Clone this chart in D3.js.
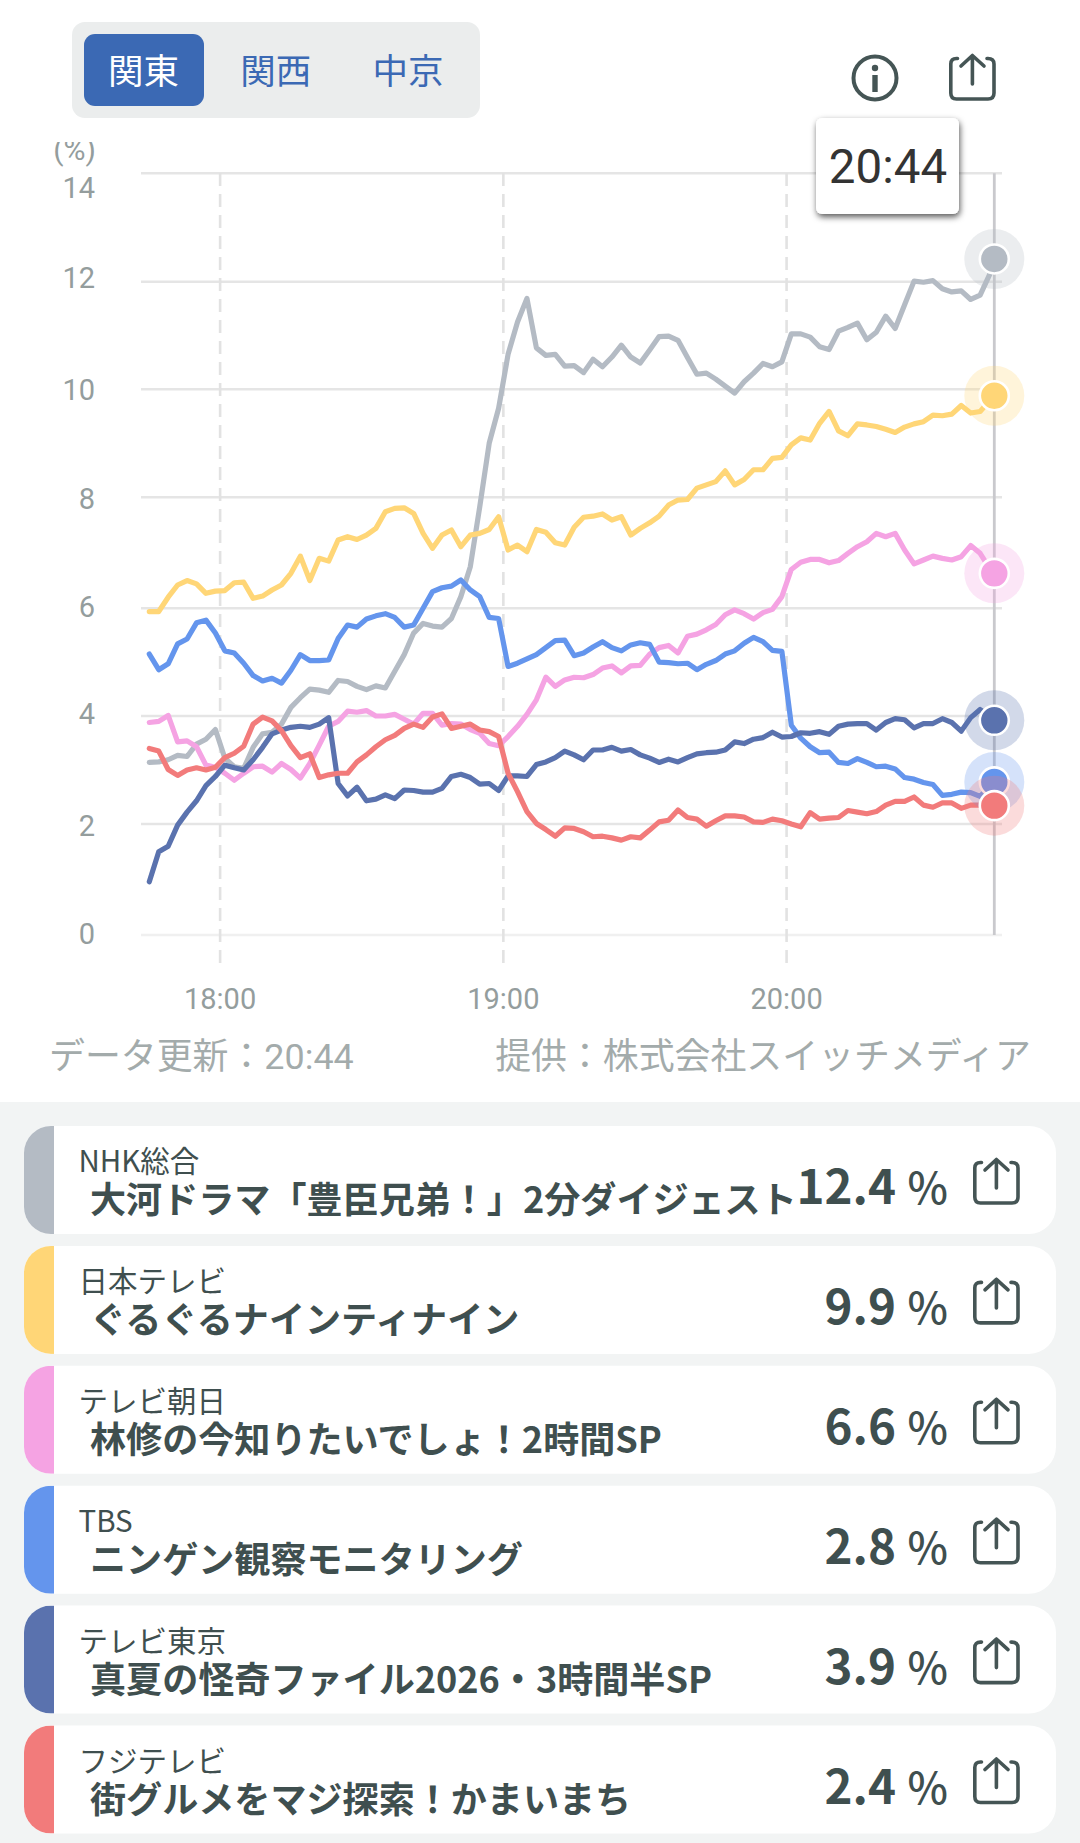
<!DOCTYPE html>
<html lang="ja">
<head>
<meta charset="utf-8">
<title>視聴率</title>
<script src="https://cdnjs.cloudflare.com/ajax/libs/d3/7.8.5/d3.min.js"></script>
<style>
html,body{margin:0;padding:0;background:#fff;}
svg{display:block;}
text{font-family:Roboto,"Noto Sans CJK JP",sans-serif;}
.cjk{font-family:"Noto Sans CJK JP",sans-serif;}
</style>
</head>
<body>
<div id="canvas"></div>
<script>
// values, one reading every 2 minutes from 17:45, then the last minute 20:44
var nhk = [3.14,3.15,3.19,3.27,3.25,3.48,3.57,3.75,3.22,3.06,
  3.03,3.42,3.67,3.70,3.85,4.16,4.34,4.50,4.48,4.44,
  4.66,4.64,4.55,4.49,4.56,4.52,4.83,5.14,5.54,5.72,
  5.67,5.65,5.81,6.21,6.75,7.83,9.0,9.65,10.65,11.25,
  11.69,10.77,10.63,10.65,10.43,10.44,10.31,10.56,10.42,10.60,
  10.82,10.60,10.49,10.73,10.98,10.99,10.91,10.59,10.28,10.30,
  10.19,10.06,9.93,10.14,10.30,10.48,10.42,10.51,11.03,11.03,
  10.97,10.79,10.74,11.08,11.15,11.23,10.92,11.06,11.36,11.13,
  11.57,12.01,11.99,12.02,11.87,11.81,11.83,11.67,11.75,12.13,
  12.42];
var ntv = [5.94,5.94,6.2,6.42,6.5,6.44,6.27,6.31,6.32,6.46,
  6.47,6.18,6.22,6.33,6.42,6.63,6.94,6.5,6.9,6.85,
  7.23,7.29,7.24,7.32,7.44,7.74,7.8,7.81,7.71,7.35,
  7.08,7.32,7.41,7.11,7.32,7.35,7.42,7.65,7.05,7.14,
  7.02,7.42,7.37,7.18,7.14,7.46,7.64,7.66,7.70,7.59,
  7.65,7.32,7.44,7.54,7.66,7.86,7.95,7.96,8.17,8.23,
  8.29,8.49,8.23,8.33,8.51,8.51,8.72,8.74,8.97,9.10,
  9.06,9.37,9.59,9.23,9.14,9.36,9.34,9.31,9.26,9.20,
  9.30,9.36,9.40,9.52,9.51,9.54,9.70,9.56,9.59,9.79,
  9.88];
var asahi = [3.88,3.9,4.01,3.52,3.54,3.43,3.09,3.05,2.94,2.81,
  2.94,3.06,3.07,2.96,3.12,3.01,2.85,3.12,3.46,3.81,
  3.9,4.09,4.07,4.1,4.0,4.0,4.03,3.94,3.85,4.05,
  4.05,3.83,3.86,3.85,3.75,3.68,3.49,3.45,3.62,3.81,
  4.03,4.30,4.72,4.55,4.67,4.72,4.71,4.77,4.89,4.93,
  4.80,4.93,4.94,5.15,5.27,5.31,5.17,5.48,5.52,5.60,
  5.70,5.88,5.97,5.90,5.80,5.92,5.98,6.21,6.70,6.83,
  6.88,6.88,6.82,6.86,6.99,7.11,7.2,7.35,7.29,7.35,
  7.05,6.80,6.87,6.94,6.90,6.87,6.93,7.13,6.99,6.72,
  6.63];
var tbs = [5.15,4.86,4.97,5.34,5.43,5.73,5.78,5.54,5.21,5.17,
  4.98,4.75,4.65,4.70,4.61,4.85,5.14,5.03,5.03,5.04,
  5.44,5.69,5.65,5.80,5.86,5.90,5.83,5.65,5.69,6.0,
  6.30,6.37,6.40,6.51,6.33,6.21,5.83,5.81,4.92,4.98,
  5.06,5.14,5.27,5.40,5.41,5.12,5.17,5.28,5.38,5.27,
  5.21,5.32,5.36,5.33,5.0,4.99,4.97,4.98,4.86,4.96,
  5.03,5.15,5.21,5.35,5.46,5.38,5.22,5.2,3.83,3.59,
  3.43,3.32,3.33,3.14,3.12,3.21,3.14,3.06,3.07,3.02,
  2.86,2.83,2.77,2.73,2.53,2.55,2.59,2.58,2.51,2.70,
  2.78];
var tokyo = [0.96,1.5,1.6,1.98,2.22,2.43,2.71,2.88,3.09,3.04,
  3.0,3.19,3.42,3.67,3.74,3.79,3.81,3.79,3.85,3.97,
  2.75,2.52,2.68,2.43,2.46,2.54,2.47,2.63,2.62,2.59,
  2.59,2.66,2.88,2.92,2.86,2.74,2.75,2.62,2.89,2.89,
  2.88,3.10,3.15,3.23,3.35,3.28,3.19,3.37,3.37,3.42,
  3.35,3.38,3.28,3.22,3.14,3.20,3.15,3.23,3.30,3.32,
  3.33,3.37,3.52,3.49,3.57,3.60,3.70,3.61,3.62,3.69,
  3.68,3.71,3.66,3.81,3.85,3.86,3.86,3.74,3.88,3.95,
  3.93,3.78,3.86,3.86,3.95,3.88,3.72,3.97,4.12,4.0,
  3.92];
var fuji = [3.40,3.35,3.01,2.90,3.0,3.04,3.0,3.05,3.23,3.31,
  3.44,3.85,3.98,3.91,3.73,3.45,3.23,3.30,2.86,2.91,
  2.94,2.94,3.15,3.28,3.43,3.56,3.64,3.77,3.85,3.79,
  3.98,4.04,3.77,3.81,3.85,3.74,3.71,3.62,2.94,2.60,
  2.23,2.01,1.90,1.78,1.93,1.92,1.86,1.77,1.78,1.75,
  1.71,1.77,1.75,1.89,2.04,2.07,2.26,2.12,2.09,1.96,
  2.06,2.15,2.15,2.13,2.04,2.03,2.09,2.06,2.0,1.95,
  2.21,2.09,2.11,2.12,2.25,2.22,2.19,2.23,2.35,2.42,
  2.42,2.50,2.35,2.31,2.39,2.39,2.29,2.35,2.35,2.35,
  2.34];

var seriesValues = [nhk, ntv, asahi, tbs, tokyo, fuji];
var channels = ['NHK総合','日本テレビ','テレビ朝日','TBS','テレビ東京','フジテレビ'];
var programs = ['大河ドラマ「豊臣兄弟！」2分ダイジェスト','ぐるぐるナインティナイン','林修の今知りたいでしょ！2時間SP',
  'ニンゲン観察モニタリング','真夏の怪奇ファイル2026・3時間半SP','街グルメをマジ探索！かまいまち'];
var ratings = ['12.4','9.9','6.6','2.8','3.9','2.4'];
var colors = ['#b4bbc4','#ffd677','#f5a3e3','#6495ed','#5a72ae','#f27b7b'];
var regions = ['関東','関西','中京'];
var yTicks = [0,2,4,6,8,10,12,14];
var hourTicks = [1080,1140,1200];      // minutes of the day: 18:00 19:00 20:00
var hourLabels = ['18:00','19:00','20:00'];
var cursorMinute = 1244;               // 20:44

var minutes = d3.range(1065,1245,2).concat([cursorMinute]);

var svg = d3.select('#canvas').append('svg')
    .attr('width',1080)
    .attr('height',1843);

var defs = svg.append('defs');
defs.append('clipPath').attr('id','unit-clip')
    .append('rect').attr('x',40).attr('y',142).attr('width',70).attr('height',40);
defs.append('filter').attr('id','tip-shadow')
    .attr('x','-20%').attr('y','-20%').attr('width','140%').attr('height','140%')
    .append('feDropShadow')
    .attr('dx',1).attr('dy',3).attr('stdDeviation',3)
    .attr('flood-color','#000').attr('flood-opacity',.65);

//scales
var x = d3.scaleLinear().domain([1065,1244]).range([149.3,994.3]);
var y = d3.scaleLinear().domain(yTicks).range([935,824,716,608.3,497.3,389.3,281.7,173.3]);

//tabs
svg.append('rect').attr('x',72).attr('y',22).attr('width',408).attr('height',96).attr('rx',13).style('fill','#ebeded');
svg.append('rect').attr('x',84).attr('y',34).attr('width',120).attr('height',72).attr('rx',11).style('fill','#3b69b4');
svg.selectAll('.tab').data(regions).enter().append('text').attr('class','tab cjk')
    .attr('x',function(d,i){return 143.5+i*132.3;})
    .attr('y',84)
    .attr('text-anchor','middle')
    .style('font-size','35.5px')
    .style('fill',function(d,i){return i==0?'#fff':'#3b69b4';})
    .text(function(d){return d;});

//top icons
function shareIcon(g){
    g.append('path')
        .attr('d','M8.5,5.5 H7.5 Q1.8,5.5 1.8,11 V40 Q1.8,46 7.5,46 H39 Q45,46 45,40 V11 Q45,5.5 39,5.5 H38')
        .style('fill','none').style('stroke','#455555').style('stroke-width',3.6).style('stroke-linecap','round');
    g.append('path')
        .attr('d','M23.4,31 V2.5 M12,13 L23.4,2.5 L35,13')
        .style('fill','none').style('stroke','#455555').style('stroke-width',3.6)
        .style('stroke-linecap','round').style('stroke-linejoin','round');
}
var info = svg.append('g').attr('transform','translate(875,78)');
info.append('circle').attr('r',21.5).style('fill','none').style('stroke','#455555').style('stroke-width',4);
info.append('circle').attr('cy',-10).attr('r',3.2).style('fill','#455555');
info.append('line').attr('y1',-3).attr('y2',14).style('stroke','#455555').style('stroke-width',5.4);
svg.append('g').attr('transform','translate(949,53)').call(shareIcon);

//y axis and grid
var labelShift = {0:8.5,2:11.5,4:8,6:8.5,8:11.5,10:11,12:6.5,14:25};
var yAxis = svg.append('g').attr('transform','translate(141,0)')
    .call(d3.axisLeft(y).tickValues(yTicks).tickSize(-861).tickPadding(0).offset(0));
yAxis.select('.domain').remove();
yAxis.selectAll('line').style('stroke',function(d){return d==0?'#f0f0f0':'#e5e5e5';}).style('stroke-width',2.6);
yAxis.selectAll('text')
    .attr('x',-46)
    .attr('dy',function(d){return labelShift[d]+'px';})
    .style('font-size','29px')
    .style('font-family','Roboto')
    .style('fill','#949d9d')
    .attr('text-anchor','end');

svg.append('text').attr('x',96).attr('y',160).attr('text-anchor','end')
    .attr('clip-path','url(#unit-clip)')
    .style('font-size','30px').style('fill','#949d9d').text('(%)');

//x axis
var xAxis = svg.append('g').attr('transform','translate(0,963)')
    .call(d3.axisBottom(x).tickValues(hourTicks).tickFormat(function(d,i){return hourLabels[i];})
        .tickSize(-790).tickPadding(0).offset(0));
xAxis.select('.domain').remove();
xAxis.selectAll('line')
    .style('stroke','#e2e2e2').style('stroke-width',2.6)
    .style('stroke-dasharray','13 8');
xAxis.selectAll('text')
    .attr('y',46).attr('dy',0)
    .style('font-size','29px')
    .style('font-family','Roboto')
    .style('fill','#949d9d');

//cursor
svg.append('line')
    .attr('x1',x(cursorMinute)).attr('x2',x(cursorMinute))
    .attr('y1',y(14)).attr('y2',y(0))
    .style('stroke','#c9c9cd').style('stroke-width',2.8);

//lines
var line = d3.line()
    .x(function(d,i){return x(minutes[i]);})
    .y(function(d){return y(d);});
svg.selectAll('.series').data(seriesValues).enter().append('path').attr('class','series')
    .attr('d',line)
    .style('fill','none')
    .style('stroke',function(d,i){return colors[i];})
    .style('stroke-width',5.2)
    .style('stroke-linejoin','round')
    .style('stroke-linecap','round');

//end markers
seriesValues.forEach(function(s,i){
    var last = s[s.length-1];
    svg.append('circle').attr('cx',x(cursorMinute)).attr('cy',y(last)).attr('r',30)
        .style('fill',colors[i]).style('fill-opacity',.27);
    svg.append('circle').attr('cx',x(cursorMinute)).attr('cy',y(last)).attr('r',14.5)
        .style('fill',colors[i]).style('stroke','#fff').style('stroke-width',2.6);
});

//tooltip
svg.append('rect').attr('x',816).attr('y',118).attr('width',143).attr('height',96).attr('rx',6)
    .style('fill','#fff').attr('filter','url(#tip-shadow)');
svg.append('text').attr('x',888).attr('y',183).attr('text-anchor','middle')
    .style('font-size','47.5px').style('fill','#333').text('20:44');

//footer
svg.append('text').attr('class','foot').attr('x',49).attr('y',1068.5)
    .style('font-size','35.9px').style('fill','#a3abab').text('データ更新：20:44');
svg.append('text').attr('class','foot').attr('x',1031).attr('y',1068.5).attr('text-anchor','end')
    .style('font-size','35.9px').style('fill','#a3abab').text('提供：株式会社スイッチメディア');

//list panel
svg.append('rect').attr('x',0).attr('y',1102).attr('width',1080).attr('height',741).style('fill','#f2f4f4');

var cards = svg.selectAll('.card').data(channels).enter().append('g').attr('class','card')
    .attr('transform',function(d,i){return 'translate(24,'+(1126+i*119.9)+')';});

cards.append('clipPath').attr('id',function(d,i){return 'card-'+i;})
    .append('rect').attr('width',1032).attr('height',108).attr('rx',27);
cards.append('rect').attr('width',1032).attr('height',108).attr('rx',27).style('fill','#fff');
cards.append('rect').attr('width',30).attr('height',108)
    .attr('clip-path',function(d,i){return 'url(#card-'+i+')';})
    .style('fill',function(d,i){return colors[i];});
cards.append('text').attr('class','cjk').attr('x',54.5).attr('y',46)
    .style('font-size','29.5px').style('fill','#3f4f4f')
    .text(function(d){return d;});
cards.append('text').attr('class','cjk').attr('x',66).attr('y',87)
    .style('font-size','36.1px').style('font-weight',700).style('fill','#3f4f4f')
    .text(function(d,i){return programs[i];});
cards.append('text').attr('class','cjk').attr('x',872).attr('y',78).attr('text-anchor','end')
    .style('font-size','47.5px').style('font-weight',700).style('fill','#3f4f4f')
    .text(function(d,i){return ratings[i];});
cards.append('text').attr('class','cjk').attr('x',924).attr('y',78).attr('text-anchor','end')
    .style('font-size','43px').style('font-weight',500).style('fill','#3f4f4f')
    .text('%');
cards.append('g').attr('transform','translate(949,31)').each(function(){shareIcon(d3.select(this));});
</script>
</body>
</html>
